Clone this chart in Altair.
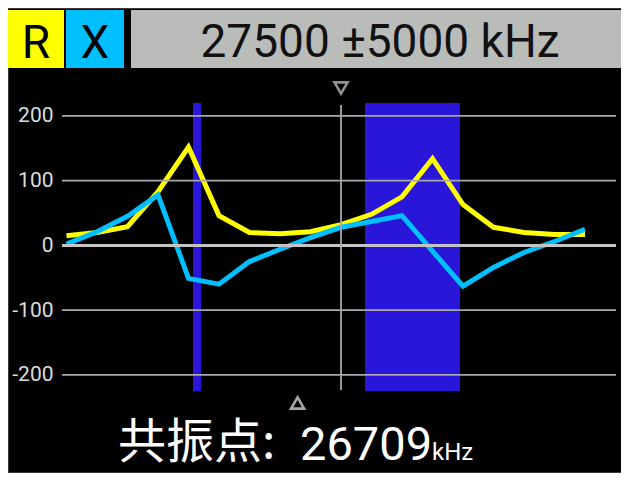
import altair as alt
import pandas as pd

# ---- data ----
freqs_khz = [22500, 23056, 23611, 24167, 24722, 25278, 25833, 26389, 26944,
             27500, 28056, 28611, 29167, 29722, 30278, 30833, 31389, 31944]
r_values = [15, 20, 29, 83, 152, 46, 20, 18, 21, 32, 48, 75, 134, 63, 28, 20, 17, 17]
x_values = [2, 21, 45, 78, -51, -60, -25, -6, 12, 28, 37, 46, -9, -63, -34, -11, 6, 25]

grid_values = [-200, -100, 100, 200]
zero_value = [0]
band_starts = [24804, 27937]
band_ends = [24950, 29668]
center_khz = [27500]
resonance_khz = [26709]
header_text = "27500 ±5000 kHz"
res_label = "共振点:"
res_value = "26709"
res_unit = "kHz"

X_DOMAIN = [22418, 32509]
Y_DOMAIN = [-225, 220]

df_lines = pd.DataFrame({
    "f": freqs_khz * 2,
    "v": r_values + x_values,
    "s": ["R"] * len(freqs_khz) + ["X"] * len(freqs_khz),
})
df_grid = pd.DataFrame({"v": grid_values})
df_zero = pd.DataFrame({"v": zero_value})
df_bands = pd.DataFrame({"f": band_starts, "f2": band_ends})
df_center = pd.DataFrame({"f": center_khz})
df_res = pd.DataFrame({"f": resonance_khz})

xs = alt.Scale(domain=X_DOMAIN, nice=False, zero=False)
ys = alt.Scale(domain=Y_DOMAIN, nice=False, zero=False)

FONT = "Roboto"
RIGHT = 559   # canvas right edge relative to plot origin
BOTTOM = 370  # canvas bottom edge relative to plot origin

border = alt.Chart(pd.DataFrame({"a": [0]})).mark_rect(
    fillOpacity=0, stroke="#3a3a3a", strokeWidth=2
).encode(x=alt.value(-54), x2=alt.value(RIGHT + 4), y=alt.value(-95), y2=alt.value(BOTTOM))

bands = alt.Chart(df_bands).mark_rect(color="#2a16d9").encode(
    x=alt.X("f:Q", scale=xs, axis=None), x2="f2:Q"
)

y_axis = alt.Axis(
    values=[-200, -100, 0, 100, 200], grid=False, ticks=False, domain=False,
    labelFont=FONT, labelFontSize=21, labelColor="#dcdcdc", labelPadding=9,
    labelExpr="datum.value < 0 ? '-' + abs(datum.value) : '' + datum.value",
    title=None, zindex=1)

lines = alt.Chart(df_lines).mark_line(strokeWidth=5, strokeJoin="miter").encode(
    x=alt.X("f:Q", scale=xs, axis=None),
    y=alt.Y("v:Q", scale=ys, axis=y_axis),
    color=alt.Color("s:N", scale=alt.Scale(domain=["R", "X"], range=["#ffff00", "#00bfff"]), legend=None),
    order=alt.Order("f:Q"),
)

grid = alt.Chart(df_grid).mark_rule(color="#a8a8a8", strokeWidth=1.8).encode(
    y=alt.Y("v:Q", scale=ys, axis=y_axis)
)
zero = alt.Chart(df_zero).mark_rule(color="#c4c4c4", strokeWidth=3).encode(
    y=alt.Y("v:Q", scale=ys, axis=y_axis)
)
center = alt.Chart(df_center).mark_rule(color="#a8a8a8", strokeWidth=1.8).encode(
    x=alt.X("f:Q", scale=xs, axis=None), y=alt.value(2), y2=alt.value(287)
)

top_tri = alt.Chart(df_center).mark_point(
    shape="triangle-down", filled=False, stroke="#d0d0d0", strokeWidth=2.6, size=170
).encode(x=alt.X("f:Q", scale=xs, axis=None), y=alt.value(-15))
bot_tri = alt.Chart(df_res).mark_point(
    shape="triangle-up", filled=False, stroke="#f0f0f0", strokeWidth=2.6, size=170
).encode(x=alt.X("f:Q", scale=xs, axis=None), y=alt.value(300))

one = pd.DataFrame({"a": [0]})
hdr_y = alt.value(-93)
hdr_y2 = alt.value(-35)
box_r = alt.Chart(one).mark_rect(color="#ffff00").encode(
    x=alt.value(-54), x2=alt.value(2), y=hdr_y, y2=hdr_y2)
box_x = alt.Chart(one).mark_rect(color="#00bfff").encode(
    x=alt.value(4), x2=alt.value(62), y=hdr_y, y2=hdr_y2)
box_g = alt.Chart(one).mark_rect(color="#b9bcb9").encode(
    x=alt.value(69), x2=alt.value(RIGHT), y=hdr_y, y2=hdr_y2)

def label(text, x, y, size, color, font=FONT, align="center"):
    return alt.Chart(pd.DataFrame({"t": [text]})).mark_text(
        font=font, fontSize=size, color=color, align=align, baseline="alphabetic"
    ).encode(text="t:N", x=alt.value(x), y=alt.value(y))

t_r = label("R", -26, -45, 46, "#000000")
t_x = label("X", 33, -45, 46, "#000000")
t_h = label(header_text, 318, -46, 46, "#111111")
t_res = label(res_label, 56, 355, 48, "#ffffff", font="Noto Sans CJK SC", align="left")
t_val = label(res_value, 238, 357, 47, "#ffffff", align="left")
t_unit = label(res_unit, 370, 357, 24, "#ffffff", align="left")

chart = alt.layer(
    border, bands, lines, grid, zero, center, top_tri, bot_tri,
    box_r, box_x, box_g, t_r, t_x, t_h, t_res, t_val, t_unit
).properties(
    width=554, height=288,
    autosize=alt.AutoSizeParams(type="none"),
    padding={"left": 54, "top": 95, "right": 5, "bottom": 82},
    background="#000000",
).configure_view(stroke=None)

chart.save("out.html", embed_options={"renderer": "svg", "actions": False})
